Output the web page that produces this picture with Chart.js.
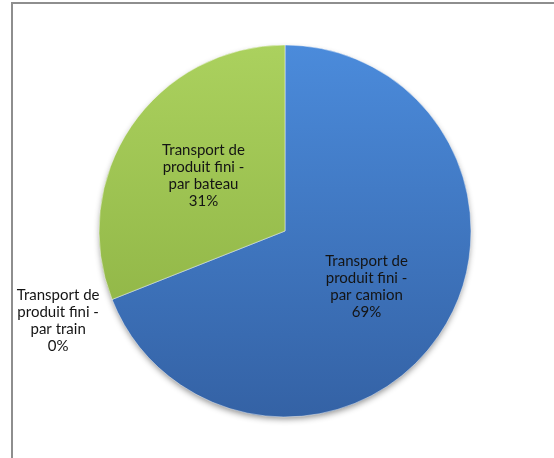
<!DOCTYPE html>
<html>
<head>
<meta charset="utf-8">
<script src="https://cdn.jsdelivr.net/npm/chart.js@4/dist/chart.umd.min.js"></script>
<style>
  html, body { margin: 0; padding: 0; background: #fff; }
  #wrap { position: relative; width: 554px; height: 458px; overflow: hidden; }
  #frame { position: absolute; left: 11px; top: 2px; width: 600px; height: 520px;
           border-left: 2px solid #8e8e8e; border-top: 2px solid #8e8e8e; }
  canvas { position: absolute; left: 0; top: 0; }
</style>
</head>
<body>
<div id="wrap">
  <div id="frame"></div>
  <canvas id="pieChart" width="554" height="458"></canvas>
</div>
<script>
// Répartition du transport du produit fini
const categories = [
  'Transport de produit fini - par camion',
  'Transport de produit fini - par train',
  'Transport de produit fini - par bateau'
];
const labelLines = [
  ['Transport de', 'produit fini -', 'par camion'],
  ['Transport de', 'produit fini -', 'par train'],
  ['Transport de', 'produit fini -', 'par bateau']
];
const values = [69, 0, 31];

// couleurs haut / bas de chaque part (dégradé vertical)
const sliceColors = [
  ['#4b8bdb', '#3462a5'],
  ['#c0504d', '#9c3a37'],
  ['#abd15e', '#88ad3f']
];

const pieRadius = 186;

function sliceGradient(context) {
  const chart = context.chart;
  const area = chart.chartArea;
  if (!area) return sliceColors[context.dataIndex][0];
  const cy = (area.top + area.bottom) / 2;
  const g = chart.ctx.createLinearGradient(0, cy - pieRadius, 0, cy + pieRadius);
  g.addColorStop(0, sliceColors[context.dataIndex][0]);
  g.addColorStop(1, sliceColors[context.dataIndex][1]);
  return g;
}

// ombre portée sous le camembert
const pieShadow = {
  id: 'pieShadow',
  beforeDatasetsDraw(chart) {
    const arc = chart.getDatasetMeta(0).data[0];
    if (!arc) return;
    const ctx = chart.ctx;
    ctx.save();
    ctx.shadowColor = 'rgba(0,0,0,0.45)';
    ctx.shadowBlur = 6;
    ctx.shadowOffsetY = 3;
    ctx.fillStyle = '#3565a8';
    ctx.beginPath();
    ctx.arc(arc.x, arc.y, arc.outerRadius - 1, 0, Math.PI * 2);
    ctx.fill();
    ctx.restore();
  }
};

// étiquettes : nom + pourcentage, dans la part ou à l'extérieur si vide
const sliceLabels = {
  id: 'sliceLabels',
  afterDatasetsDraw(chart) {
    const ctx = chart.ctx;
    const total = values.reduce((a, b) => a + b, 0);
    const meta = chart.getDatasetMeta(0);
    ctx.save();
    ctx.font = '15px Lato, "Open Sans", sans-serif';
    ctx.fillStyle = '#141414';
    ctx.textAlign = 'center';
    ctx.textBaseline = 'middle';
    meta.data.forEach((arc, i) => {
      const p = arc.getProps(['x', 'y', 'startAngle', 'endAngle', 'outerRadius'], true);
      const mid = (p.startAngle + p.endAngle) / 2;
      const dist = values[i] > 0 ? p.outerRadius * 0.53 : p.outerRadius + 58;
      const cx = p.x + Math.cos(mid) * dist;
      const cy = p.y + Math.sin(mid) * dist;
      const lines = labelLines[i].concat([Math.round(values[i] / total * 100) + '%']);
      const lh = 17;
      const y0 = cy - (lines.length - 1) * lh / 2;
      lines.forEach((t, k) => ctx.fillText(t, cx, y0 + k * lh));
    });
    ctx.restore();
  }
};

const ctx = document.getElementById('pieChart').getContext('2d');
new Chart(ctx, {
  type: 'pie',
  data: {
    labels: categories,
    datasets: [{
      data: values,
      backgroundColor: sliceGradient,
      borderColor: 'rgba(255,255,255,0.45)',
      borderWidth: 1,
      radius: pieRadius
    }]
  },
  options: {
    responsive: false,
    animation: false,
    layout: { padding: { left: 16, right: 0, top: 4, bottom: 0 } },
    plugins: {
      legend: { display: false },
      tooltip: { enabled: false }
    }
  },
  plugins: [pieShadow, sliceLabels]
});
</script>
</body>
</html>
